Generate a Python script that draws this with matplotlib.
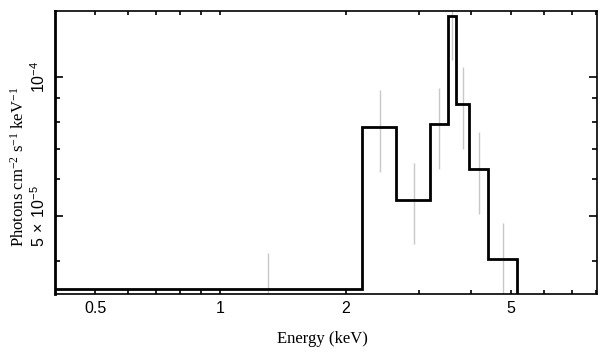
import matplotlib
matplotlib.use("Agg")
import matplotlib.pyplot as plt
from matplotlib.ticker import FixedLocator, FixedFormatter, NullFormatter

# model: folded step spectrum (bin edges in keV, photons cm^-2 s^-1 keV^-1)
model_edges = [0.39, 2.187, 2.651, 3.188, 3.518, 3.69, 3.966, 4.40, 5.16]
model_values = [3.47e-5, 7.81e-5, 5.42e-5, 7.91e-5, 1.355e-4, 8.74e-5, 6.32e-5, 4.03e-5]

# data points: energy and error range
data_energy = [1.298, 2.42, 2.92, 3.353, 3.604, 3.83, 4.183, 4.78]
data_lo = [2.9e-5, 6.24e-5, 4.35e-5, 6.31e-5, 1.088e-4, 6.97e-5, 5.05e-5, 2.9e-5]
data_hi = [4.15e-5, 9.37e-5, 6.52e-5, 9.45e-5, 1.7e-4, 1.049e-4, 7.59e-5, 4.84e-5]

x_major = [0.5, 1, 2, 5]
x_major_labels = ['0.5', '1', '2', '5']
x_minor = [0.6, 0.7, 0.8, 0.9, 3, 4, 6, 7, 8]
y_major = [5e-5, 1e-4]
y_major_labels = [r'$\mathregular{5\,\times\,10^{-5}}$', r'$\mathregular{10^{-4}}$']
y_minor = [4e-5, 6e-5, 7e-5, 8e-5, 9e-5]

fig = plt.figure(figsize=(6.08, 3.57), dpi=100)
ax = fig.add_axes([55 / 608, 63 / 357, 542 / 608, 283 / 357])

ax.vlines(data_energy, data_lo, data_hi, colors='#c8c8c8', linewidth=1.0, zorder=1)
ax.stairs(model_values, model_edges, baseline=1e-6, color='black', linewidth=2.0, zorder=2)

ax.set_xscale('log')
ax.set_yscale('log')
ax.set_xlim(0.4, 8.05)
ax.set_ylim(3.39e-5, 1.39e-4)

ax.xaxis.set_major_locator(FixedLocator(x_major))
ax.xaxis.set_major_formatter(FixedFormatter(x_major_labels))
ax.xaxis.set_minor_locator(FixedLocator(x_minor))
ax.xaxis.set_minor_formatter(NullFormatter())
ax.yaxis.set_major_locator(FixedLocator(y_major))
ax.yaxis.set_major_formatter(FixedFormatter(y_major_labels))
ax.yaxis.set_minor_locator(FixedLocator(y_minor))
ax.yaxis.set_minor_formatter(NullFormatter())

ax.tick_params(which='both', direction='in', top=True, right=True, width=1.2,
               labelsize=11.5, labelfontfamily='Liberation Sans')
ax.tick_params(axis='x', which='both', length=3, pad=5)
ax.tick_params(axis='y', which='major', length=6, pad=5)
ax.tick_params(axis='y', which='minor', length=3.3)
for lab in ax.get_yticklabels():
    lab.set_rotation(90)
    lab.set_va('center')

for side in ['top', 'right', 'bottom']:
    ax.spines[side].set_linewidth(1.2)
ax.spines['left'].set_linewidth(2.0)

ax.set_xlabel('Energy (keV)', family='Liberation Serif', fontsize=12)
ax.set_ylabel(r'Photons cm$\mathregular{^{-2}}$ s$\mathregular{^{-1}}$ keV$\mathregular{^{-1}}$',
              family='Liberation Serif', fontsize=12)
ax.xaxis.set_label_coords(0.493, -0.13)
ax.yaxis.set_label_coords(-0.05, 0.449)

fig.savefig('out.png', dpi=100)
